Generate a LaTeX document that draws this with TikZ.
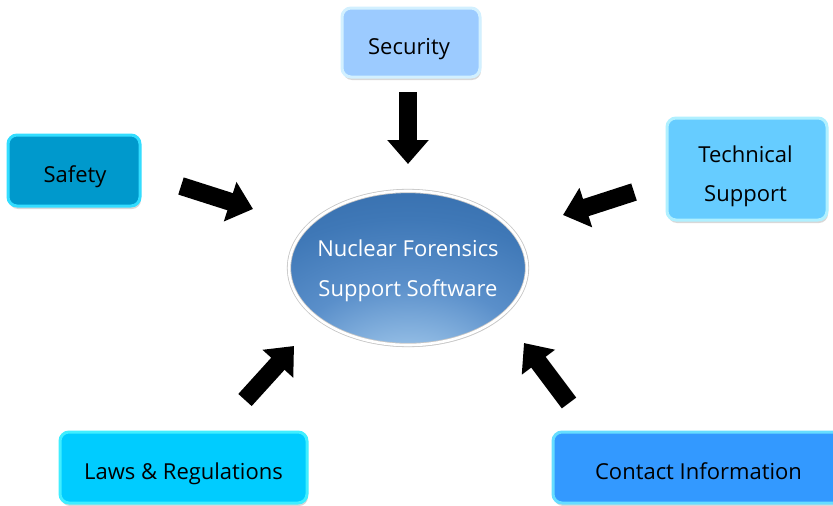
\documentclass[tikz,border=0pt]{standalone}
\usepackage{fontspec}
\setmainfont{Open Sans}
\usetikzlibrary{arrows.meta,shadows,shapes.geometric}
\definecolor{secfill}{HTML}{9CCBFF}\definecolor{secline}{HTML}{D2F0FF}
\definecolor{saffill}{HTML}{0099CC}\definecolor{safline}{HTML}{33DDFF}
\definecolor{tecfill}{HTML}{66CCFF}\definecolor{tecline}{HTML}{B0F0FF}
\definecolor{lawfill}{HTML}{00CCFF}\definecolor{lawline}{HTML}{40EEFF}
\definecolor{confill}{HTML}{3399FF}\definecolor{conline}{HTML}{66DDFF}
\definecolor{sh0}{HTML}{B4D2EF}\definecolor{sh1}{HTML}{8DB8E2}
\definecolor{sh2}{HTML}{5A8FCA}\definecolor{sh3}{HTML}{3F78B7}
\definecolor{sh4}{HTML}{2B62A0}\definecolor{sh5}{HTML}{245893}
\pgfdeclareradialshading{nfsshade}{\pgfpoint{0bp}{-40bp}}{%
  color(0bp)=(sh0); color(12bp)=(sh1); color(25bp)=(sh2);
  color(40bp)=(sh3); color(64bp)=(sh4); color(90bp)=(sh5); color(100bp)=(sh5)}
\tikzset{
  topic/.style={draw, line width=3pt, rounded corners=9pt, inner sep=0pt,
    drop shadow={shadow xshift=1pt, shadow yshift=-3pt, opacity=0.3}},
  boxtext/.style={align=center, font=\fontsize{22}{39}\selectfont, text=black, inner sep=0pt},
  single/.style={text height=24pt, text depth=0pt},
  bigarrow/.style={line width=18pt, draw=black,
    -{Triangle[width=40pt, length=24pt]}}
}
\begin{document}
\begin{tikzpicture}[x=1pt,y=-1pt]
\useasboundingbox[fill=white] (0,0) rectangle (833,506);
\node[topic, fill=secfill, draw=secline, minimum width=138pt, minimum height=69pt] (sec) at (411,42.5) {};
\node[topic, fill=saffill, draw=safline, minimum width=132pt, minimum height=71pt] (saf) at (74,170.5) {};
\node[topic, fill=tecfill, draw=tecline, minimum width=160pt, minimum height=102pt] (tec) at (747,169) {};
\node[topic, fill=lawfill, draw=lawline, minimum width=247pt, minimum height=71pt] (law) at (183.5,467.5) {};
\node[topic, fill=confill, draw=conline, minimum width=290pt, minimum height=71pt] (con) at (698,467.5) {};
\node[boxtext, single] (secT) at (409,42.5) {Security};
\node[boxtext, single] (safT) at (75,170.5) {Safety};
\node[boxtext, yshift=-7pt] (tecT) at (745.5,169) {Technical\\Support};
\node[boxtext, single] (lawT) at (183.5,467.5) {Laws \& Regulations};
\node[boxtext, single] (conT) at (698.5,467.5) {Contact Information};
\node[ellipse, draw=gray!45, line width=0.8pt, double=white, double distance=2.6pt,
  shading=nfsshade,
  minimum width=238pt, minimum height=154pt, inner sep=0pt, align=center,
  font=\fontsize{22}{40}\selectfont, text=white,
  drop shadow={shadow xshift=1pt, shadow yshift=-2pt, opacity=0.25}] (nfs) at (408,268) {};
\node[align=center, font=\fontsize{22}{40}\selectfont, text=white, inner sep=0pt, yshift=-3pt] (nfsT) at (nfs.center) {Nuclear Forensics\\Support Software};
\coordinate (s1) at (408,92);  \coordinate (e1) at (408,164);
\coordinate (s2) at (181,186); \coordinate (e2) at (253,209);
\coordinate (s3) at (634,192); \coordinate (e3) at (563,215);
\coordinate (s4) at (245,400); \coordinate (e4) at (294,346);
\coordinate (s5) at (569,403); \coordinate (e5) at (524,343);
\draw[bigarrow] (s1) -- (e1);
\draw[bigarrow] (s2) -- (e2);
\draw[bigarrow] (s3) -- (e3);
\draw[bigarrow] (s4) -- (e4);
\draw[bigarrow] (s5) -- (e5);
\end{tikzpicture}
\end{document}
